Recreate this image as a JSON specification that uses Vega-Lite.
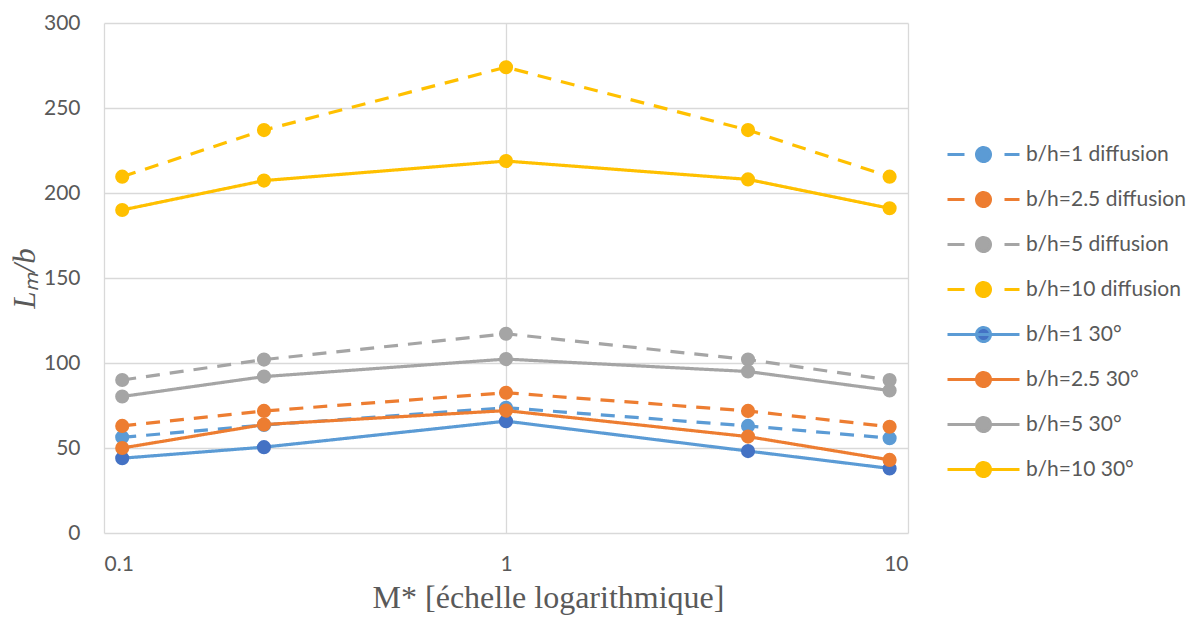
{
  "$schema": "https://vega.github.io/schema/vega-lite/v6.json",
  "width": 804,
  "height": 510,
  "autosize": {"type": "none"},
  "padding": {"left": 104, "top": 23, "right": 292, "bottom": 84},
  "background": "white",
  "config": {"view": {"stroke": null}},
  "data": {
    "values": [
      {"series": "b/h=1 diffusion", "x": 0.111, "y": 56.3},
      {"series": "b/h=1 diffusion", "x": 0.25, "y": 63.5},
      {"series": "b/h=1 diffusion", "x": 1, "y": 73.7},
      {"series": "b/h=1 diffusion", "x": 4, "y": 63},
      {"series": "b/h=1 diffusion", "x": 9, "y": 55.8},
      {"series": "b/h=2.5 diffusion", "x": 0.111, "y": 63},
      {"series": "b/h=2.5 diffusion", "x": 0.25, "y": 71.8},
      {"series": "b/h=2.5 diffusion", "x": 1, "y": 82.5},
      {"series": "b/h=2.5 diffusion", "x": 4, "y": 71.8},
      {"series": "b/h=2.5 diffusion", "x": 9, "y": 62.5},
      {"series": "b/h=5 diffusion", "x": 0.111, "y": 90},
      {"series": "b/h=5 diffusion", "x": 0.25, "y": 102},
      {"series": "b/h=5 diffusion", "x": 1, "y": 117.2},
      {"series": "b/h=5 diffusion", "x": 4, "y": 102},
      {"series": "b/h=5 diffusion", "x": 9, "y": 90},
      {"series": "b/h=10 diffusion", "x": 0.111, "y": 209.6},
      {"series": "b/h=10 diffusion", "x": 0.25, "y": 237},
      {"series": "b/h=10 diffusion", "x": 1, "y": 274},
      {"series": "b/h=10 diffusion", "x": 4, "y": 237},
      {"series": "b/h=10 diffusion", "x": 9, "y": 209.6},
      {"series": "b/h=1 30°", "x": 0.111, "y": 44},
      {"series": "b/h=1 30°", "x": 0.25, "y": 50.5},
      {"series": "b/h=1 30°", "x": 1, "y": 65.8},
      {"series": "b/h=1 30°", "x": 4, "y": 48.2},
      {"series": "b/h=1 30°", "x": 9, "y": 38},
      {"series": "b/h=2.5 30°", "x": 0.111, "y": 50},
      {"series": "b/h=2.5 30°", "x": 0.25, "y": 63.8},
      {"series": "b/h=2.5 30°", "x": 1, "y": 72},
      {"series": "b/h=2.5 30°", "x": 4, "y": 56.7},
      {"series": "b/h=2.5 30°", "x": 9, "y": 43},
      {"series": "b/h=5 30°", "x": 0.111, "y": 80.3},
      {"series": "b/h=5 30°", "x": 0.25, "y": 92},
      {"series": "b/h=5 30°", "x": 1, "y": 102.3},
      {"series": "b/h=5 30°", "x": 4, "y": 95},
      {"series": "b/h=5 30°", "x": 9, "y": 83.8},
      {"series": "b/h=10 30°", "x": 0.111, "y": 190},
      {"series": "b/h=10 30°", "x": 0.25, "y": 207.3},
      {"series": "b/h=10 30°", "x": 1, "y": 218.8},
      {"series": "b/h=10 30°", "x": 4, "y": 208},
      {"series": "b/h=10 30°", "x": 9, "y": 191}
    ]
  },
  "encoding": {
    "x": {
      "field": "x",
      "type": "quantitative",
      "scale": {"type": "log", "domain": [0.1, 10]},
      "axis": {
        "values": [0.1, 1, 10],
        "format": "~g",
        "title": "M* [échelle logarithmique]",
        "titleFont": "Liberation Serif",
        "titleFontSize": 32,
        "titleFontWeight": "normal",
        "titleColor": "#595959",
        "titlePadding": 8,
        "titleX": 444,
        "labelFont": "Lato",
        "labelFontSize": 21,
        "labelColor": "#595959",
        "labelPadding": 20,
        "ticks": false,
        "domain": false,
        "grid": true,
        "gridColor": "#D9D9D9",
        "gridWidth": 1.3
      }
    },
    "y": {
      "field": "y",
      "type": "quantitative",
      "scale": {"domain": [0, 300]},
      "axis": {
        "values": [0, 50, 100, 150, 200, 250, 300],
        "title": "Lₘ/b",
        "titleFont": "Liberation Serif",
        "titleFontStyle": "italic",
        "titleFontSize": 31,
        "titleFontWeight": "normal",
        "titleColor": "#595959",
        "titlePadding": 2,
        "labelFont": "Lato",
        "labelFontSize": 21,
        "labelColor": "#595959",
        "labelPadding": 24,
        "ticks": false,
        "domain": false,
        "grid": true,
        "gridColor": "#D9D9D9",
        "gridWidth": 1.3
      }
    }
  },
  "layer": [
    {
      "mark": {"type": "line", "strokeWidth": 3.2},
      "encoding": {
        "stroke": {
          "field": "series",
          "type": "nominal",
          "scale": {
            "domain": ["b/h=1 diffusion", "b/h=2.5 diffusion", "b/h=5 diffusion", "b/h=10 diffusion", "b/h=1 30°", "b/h=2.5 30°", "b/h=5 30°", "b/h=10 30°"],
            "range": ["#5B9BD5", "#ED7D31", "#A5A5A5", "#FFC000", "#5B9BD5", "#ED7D31", "#A5A5A5", "#FFC000"]
          }
        },
        "strokeDash": {
          "condition": {"test": "indexof(datum.series, 'diffusion') >= 0", "value": [14, 10]},
          "value": [1, 0]
        }
      }
    },
    {
      "mark": {"type": "point", "filled": true, "shape": "circle", "size": 200, "opacity": 1, "strokeWidth": 0},
      "encoding": {
        "fill": {
          "field": "series",
          "type": "nominal",
          "scale": {
            "domain": ["b/h=1 diffusion", "b/h=2.5 diffusion", "b/h=5 diffusion", "b/h=10 diffusion", "b/h=1 30°", "b/h=2.5 30°", "b/h=5 30°", "b/h=10 30°"],
            "range": ["#5B9BD5", "#ED7D31", "#A5A5A5", "#FFC000", "#4472C4", "#ED7D31", "#A5A5A5", "#FFC000"]
          },
          "legend": {
            "orient": "none",
            "legendX": 868,
            "legendY": 120,
            "title": null,
            "padding": 0,
            "symbolSize": 400,
            "symbolStrokeWidth": 3,
            "labelFont": "Lato",
            "labelFontSize": 21,
            "labelColor": "#595959",
            "labelOffset": 31,
            "labelLimit": 300,
            "rowPadding": 18,
            "encoding": {
              "symbols": {
                "shape": {"value": {"expr": "indexof(datum.value, 'diffusion') >= 0 ? 'M-3.6,0H-1.9M2.1,0H3.6M0.7,0A0.7,0.7,0,1,1,-0.7,0A0.7,0.7,0,1,1,0.7,0' : 'M-3.6,0H3.6M0.7,0A0.7,0.7,0,1,1,-0.7,0A0.7,0.7,0,1,1,0.7,0'"}},
                "strokeDash": {"value": [1, 0]},
                "strokeWidth": {"value": 3},
                "opacity": {"value": 1}
              }
            }
          }
        }
      }
    }
  ]
}
